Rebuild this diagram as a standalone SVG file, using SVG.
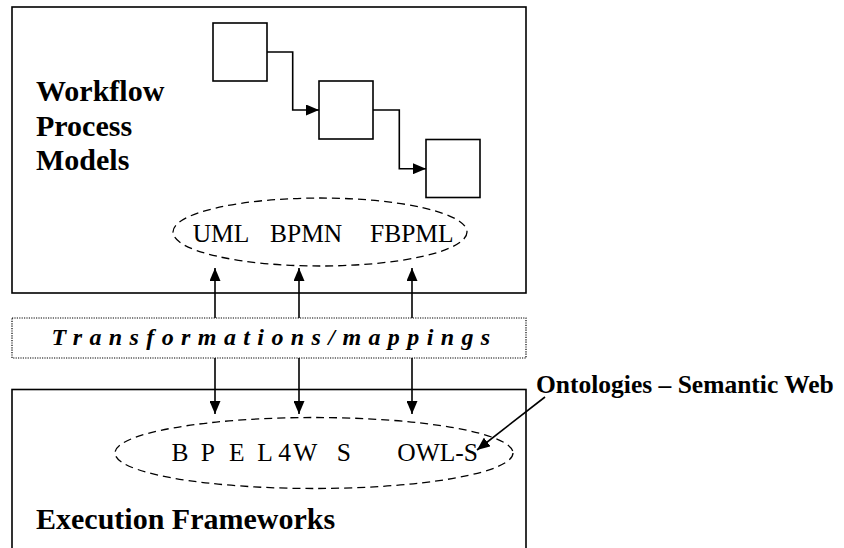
<svg xmlns="http://www.w3.org/2000/svg" width="844" height="548" viewBox="0 0 844 548">
<style>
  .box{fill:#fff;stroke:#000;stroke-width:1.6}
  .line{fill:none;stroke:#000;stroke-width:1.6}
  .dash{fill:none;stroke:#000;stroke-width:1.3;stroke-dasharray:8,5}
  .dot{fill:none;stroke:#000;stroke-width:1.2;stroke-dasharray:1.2,1.2}
  text{font-family:'Liberation Serif','DejaVu Serif',serif;fill:#000}
  .big{font-size:30px;font-weight:bold}
  .reg{font-size:25.5px}
</style>
<defs>
  <marker id="ah" viewBox="0 0 13 11" refX="13" refY="5.5" markerWidth="13" markerHeight="11" markerUnits="userSpaceOnUse" orient="auto">
    <path d="M0,0 L13,5.5 L0,11 Z" fill="#000"/>
  </marker>
</defs>
<rect width="844" height="548" fill="#fff"/>

<g id="workflow-box">
  <rect class="box" x="12" y="7" width="514" height="286"/>
  <text class="big" font-family="Liberation Serif, serif" x="36" y="101">Workflow</text>
  <text class="big" font-family="Liberation Serif, serif" x="36" y="135.5">Process</text>
  <text class="big" font-family="Liberation Serif, serif" x="36" y="170">Models</text>
</g>

<g id="step1"><rect class="box" x="213" y="23" width="54" height="58"/></g>
<g id="step2"><rect class="box" x="319" y="81" width="54" height="58"/></g>
<g id="step3"><rect class="box" x="426" y="139.5" width="54" height="58"/></g>

<g id="modeling-languages">
  <ellipse class="dash" cx="320" cy="232" rx="147" ry="34"/>
  <text class="reg" font-family="Liberation Serif, serif" x="192.7" y="241.5">UML</text>
  <text class="reg" font-family="Liberation Serif, serif" x="270" y="241.5">BPMN</text>
  <text class="reg" font-family="Liberation Serif, serif" x="370" y="241.5">FBPML</text>
</g>

<g id="transformations">
  <rect class="dot" x="12" y="318" width="514" height="40"/>
  <text font-family="Liberation Serif, serif" x="51.5" y="344.5" font-size="24" font-weight="bold" font-style="italic" letter-spacing="7.4">Transformations/mappings</text>
</g>

<g id="execution-box">
  <rect class="box" x="12" y="389.5" width="514" height="200"/>
  <text class="big" font-family="Liberation Serif, serif" x="36" y="528.5">Execution Frameworks</text>
</g>

<g id="execution-languages">
  <ellipse class="dash" cx="314" cy="453" rx="199" ry="35.5"/>
  <text class="reg" font-family="Liberation Serif, serif" y="461" x="171.5 200.7 229 257.3 278.3 293.3 336.7">BPEL4WS</text>
  <text class="reg" font-family="Liberation Serif, serif" x="397.3" y="461">OWL-S</text>
</g>

<g id="ontologies-label">
  <text font-family="Liberation Serif, serif" x="536" y="392.5" font-size="25.5" font-weight="bold">Ontologies – Semantic Web</text>
</g>

<g id="connectors">
  <polyline class="line" points="267,52 292.7,52 292.7,110 319,110" marker-end="url(#ah)"/>
  <polyline class="line" points="373,110 399.3,110 399.3,168.7 426,168.7" marker-end="url(#ah)"/>
  <line class="line" x1="215" y1="318" x2="215" y2="268" marker-end="url(#ah)"/>
  <line class="line" x1="299" y1="318" x2="299" y2="268" marker-end="url(#ah)"/>
  <line class="line" x1="412" y1="318" x2="412" y2="268" marker-end="url(#ah)"/>
  <line class="line" x1="215" y1="358" x2="215" y2="414" marker-end="url(#ah)"/>
  <line class="line" x1="299" y1="358" x2="299" y2="414" marker-end="url(#ah)"/>
  <line class="line" x1="412" y1="358" x2="412" y2="414" marker-end="url(#ah)"/>
  <line class="line" x1="545" y1="397" x2="477" y2="450" marker-end="url(#ah)"/>
</g>
</svg>
